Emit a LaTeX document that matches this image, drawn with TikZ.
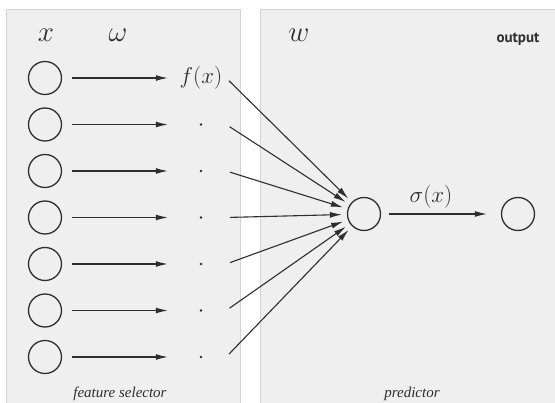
\RequirePackage{fix-cm}
\documentclass[tikz,border=0pt]{standalone}
\usepackage{fontspec}
\newfontfamily\capfont{Liberation Serif}[ItalicFont={Liberation Serif Italic}]
\newfontfamily\headfont{PT Sans}
\usepackage{xcolor}
\definecolor{panelgray}{HTML}{EFEFEF}
\definecolor{panelline}{HTML}{D4D4D4}
\definecolor{inkgray}{HTML}{2E2E2E}
\usetikzlibrary{arrows.meta}

\begin{document}
\begin{tikzpicture}[x=1pt, y=-1pt,
	panel/.style={draw=panelline, fill=panelgray, line width=0.8pt},
	neuron/.style={circle, draw=inkgray, line width=1.3pt, minimum size=33pt, inner sep=0pt},
	sel/.style={minimum width=50pt, minimum height=20pt, inner sep=0pt},
	arr/.style={-{Latex[length=12pt, width=6pt]}, draw=inkgray, line width=1.1pt},
	mathlbl/.style={font=\fontsize{29}{32}\selectfont, text=inkgray},
	funlbl/.style={font=\fontsize{23}{26}\selectfont, text=inkgray},
	caption/.style={font=\capfont\itshape\fontsize{15}{18}\selectfont, text=inkgray}
	]
\useasboundingbox (0,0) rectangle (555,403);
% panels
\draw[panel] (6,9) rectangle (240,410);
\draw[panel] (260,9) rectangle (560,410);

\node[mathlbl] (xl) at (46,35) {$x$};
\node[mathlbl] (wl) at (118,35) {$\omega$};
\node[mathlbl] (Wl) at (299,35) {$w$};
\node[font=\headfont\bfseries\fontsize{15}{17}\selectfont, text=inkgray] (outl) at (518,39) {output};

% inputs and selected features
\foreach \i in {1,...,7} \node[neuron] (x\i) at (45,{78+46.5*(\i-1)}) {};
\node[sel, funlbl] (d1) at (201,78) {$f(x)$};
\foreach \i in {2,...,7} {
  \node[sel] (d\i) at (201,{78+46.5*(\i-1)}) {};
  \fill[inkgray] (d\i.center) circle (1.4pt);
}

\node[neuron] (h) at (364,214) {};
\node[neuron] (o) at (518,214) {};
\node[funlbl] (sig) at (431,197) {$\sigma(x)$};

\foreach \i in {1,...,7} {
  \draw[arr, shorten <=10pt, shorten >=8pt] (x\i) -- (d\i);
  \draw[arr, shorten <=4pt, shorten >=5pt] (d\i.east) -- (h);
}
\draw[arr, shorten <=8pt, shorten >=14pt] (h) -- (o);

\node[caption] (fsel) at (120,394) {feature selector};
\node[caption] (pred) at (412,394) {predictor};
\end{tikzpicture}
\end{document}
